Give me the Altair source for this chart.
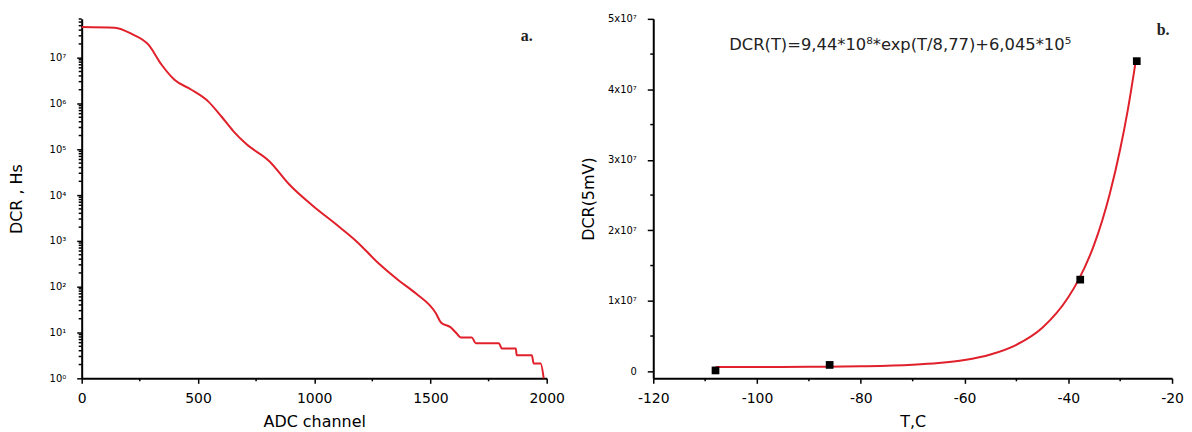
import altair as alt
import pandas as pd

# ---------------- data ----------------
# panel a: DCR vs ADC channel (log scale)
adc_channel = [0, 142, 215, 288, 343, 399, 472, 545, 601, 652, 708, 807, 893, 991,
               1094, 1180, 1279, 1365, 1438, 1524, 1545, 1588, 1609, 1631, 1678,
               1695, 1794, 1807, 1867, 1871, 1936, 1944, 1974, 1987]
adc_dcr = [4.7e7, 4.5e7, 3.3e7, 1.9e7, 7.1e6, 3.3e6, 2.0e6, 1.1e6, 5.2e5, 2.5e5,
           1.3e5, 5.5e4, 1.7e4, 6.0e3, 2.3e3, 1.0e3, 316, 135, 71, 26, 16.6, 12.9,
           10, 7.8, 7.8, 5.8, 5.8, 4.5, 4.5, 3.2, 3.2, 2.1, 2.1, 1.0]

# panel b: measured points and exponential fit curve
temp_points = [-108, -86, -37.7, -26.8]
dcr_points = [1.2e5, 9.0e5, 1.3e7, 4.4e7]
fit_temp = [-108, -100, -90, -80, -70, -65, -60, -55, -50, -45, -40, -38, -35,
            -32, -30, -28.5, -27]
fit_dcr = [6.09e5, 6.15e5, 6.38e5, 7.08e5, 9.27e5, 1.18e6, 1.61e6, 2.39e6,
           3.76e6, 6.18e6, 1.05e7, 1.30e7, 1.80e7, 2.52e7, 3.15e7, 3.72e7, 4.4e7]

# tick values and labels
log_major = [1, 10, 100, 1000, 10000, 100000, 1000000, 10000000]
log_labels = ["10⁰", "10¹", "10²", "10³", "10⁴", "10⁵", "10⁶", "10⁷"]
log_minor = [m * d for d in log_major for m in range(2, 10) if m * d <= 7e7]
lin_major = [0, 10000000, 20000000, 30000000, 40000000, 50000000]
lin_labels = ["0", "1x10⁷", "2x10⁷", "3x10⁷", "4x10⁷", "5x10⁷"]
lin_minor = [5000000, 15000000, 25000000, 35000000, 45000000]
adc_major = [0, 500, 1000, 1500, 2000]
adc_minor = [250, 750, 1250, 1750]
temp_major = [-120, -100, -80, -60, -40, -20]
temp_minor = [-110, -90, -70, -50, -30]

equation = "DCR(T)=9,44*10⁸*exp(T/8,77)+6,045*10⁵"

RED = "#e0202a"
FONT = "DejaVu Sans"
W_A, W_B, H = 467, 521, 361


def label_expr(values, labels):
    pairs = ",".join(f"'{v}':'{l}'" for v, l in zip(values, labels))
    return "{" + pairs + "}['' + datum.value] || ''"


def minor_y(field, values):
    return alt.Chart(pd.DataFrame({field: values})).mark_rule(
        color="black", strokeWidth=1.5).encode(
        x=alt.value(-3), x2=alt.value(0), y=alt.Y(f"{field}:Q"))


def minor_x(field, values):
    return alt.Chart(pd.DataFrame({field: values})).mark_rule(
        color="black", strokeWidth=1.5).encode(
        y=alt.value(H), y2=alt.value(H + 3), x=alt.X(f"{field}:Q"))


x_axis_common = dict(domain=True, ticks=True, tickSize=5, labelFontSize=14,
                     labelPadding=8, labelFlush=False, titleFontSize=16,
                     titleFontWeight="normal", titleY=35,
                     labelExpr="'' + datum.value")
y_axis_common = dict(domain=True, ticks=True, labelFontSize=10,
                     titleFontSize=16, titleFontWeight="normal", titleX=-57)

# ---------------- panel a ----------------
df_a = pd.DataFrame({"adc": adc_channel, "dcr": adc_dcr})
line_a = alt.Chart(df_a).mark_line(color=RED, strokeWidth=2, interpolate="monotone").encode(
    x=alt.X("adc:Q", scale=alt.Scale(domain=[0, 2000], nice=False),
            axis=alt.Axis(title="ADC channel", values=adc_major, **x_axis_common)),
    y=alt.Y("dcr:Q", scale=alt.Scale(type="log", domain=[1, 7.05e7], nice=False),
            axis=alt.Axis(title="DCR , Hs", values=log_major,
                          labelExpr=label_expr(log_major, log_labels),
                          tickSize=5, labelPadding=11, **y_axis_common)),
)
lab_a = alt.Chart(pd.DataFrame({"t": ["a."]})).mark_text(
    font="Liberation Serif", fontWeight="bold", fontSize=16, color="#222").encode(
    x=alt.value(447), y=alt.value(17), text="t:N")
left = alt.layer(line_a, minor_y("dcr", log_minor), minor_x("adc", adc_minor),
                 lab_a).properties(width=W_A, height=H)

# ---------------- panel b ----------------
df_fit = pd.DataFrame({"T": fit_temp, "dcr": fit_dcr})
df_pts = pd.DataFrame({"T": temp_points, "dcr": dcr_points})
xb = alt.X("T:Q", scale=alt.Scale(domain=[-120, -20], nice=False),
           axis=alt.Axis(title="T,C", values=temp_major, **x_axis_common))
yb = alt.Y("dcr:Q", scale=alt.Scale(domain=[-1e6, 5e7], nice=False),
           axis=alt.Axis(title="DCR(5mV)", values=lin_major,
                         labelExpr=label_expr(lin_major, lin_labels),
                         tickSize=6, labelPadding=11, **y_axis_common))
fit_b = alt.Chart(df_fit).mark_line(color=RED, strokeWidth=2, interpolate="monotone").encode(
    x=xb, y=yb)
pts_b = alt.Chart(df_pts).mark_point(shape="square", filled=True, color="black",
                                     size=60, opacity=1).encode(x="T:Q", y="dcr:Q")
eq_b = alt.Chart(pd.DataFrame({"t": [equation]})).mark_text(
    font=FONT, fontSize=16.4, color="#222").encode(
    x=alt.value(248), y=alt.value(26), text="t:N")
lab_b = alt.Chart(pd.DataFrame({"t": ["b."]})).mark_text(
    font="Liberation Serif", fontWeight="bold", fontSize=16, color="#222").encode(
    x=alt.value(512), y=alt.value(11), text="t:N")
right = alt.layer(fit_b, pts_b, minor_y("dcr", lin_minor), minor_x("T", temp_minor),
                  eq_b, lab_b).properties(width=W_B, height=H)

chart = alt.hconcat(left, right, spacing=107, bounds="flush").properties(
    padding={"left": 1, "top": 5, "right": 0, "bottom": 0}
).configure_axis(
    labelFont=FONT, titleFont=FONT, domainColor="black", tickColor="black",
    labelColor="black", titleColor="black", grid=False, domainWidth=2, tickWidth=1.5,
).configure_view(stroke=None)

chart.save("out.html", embed_options={"renderer": "svg", "actions": False})
